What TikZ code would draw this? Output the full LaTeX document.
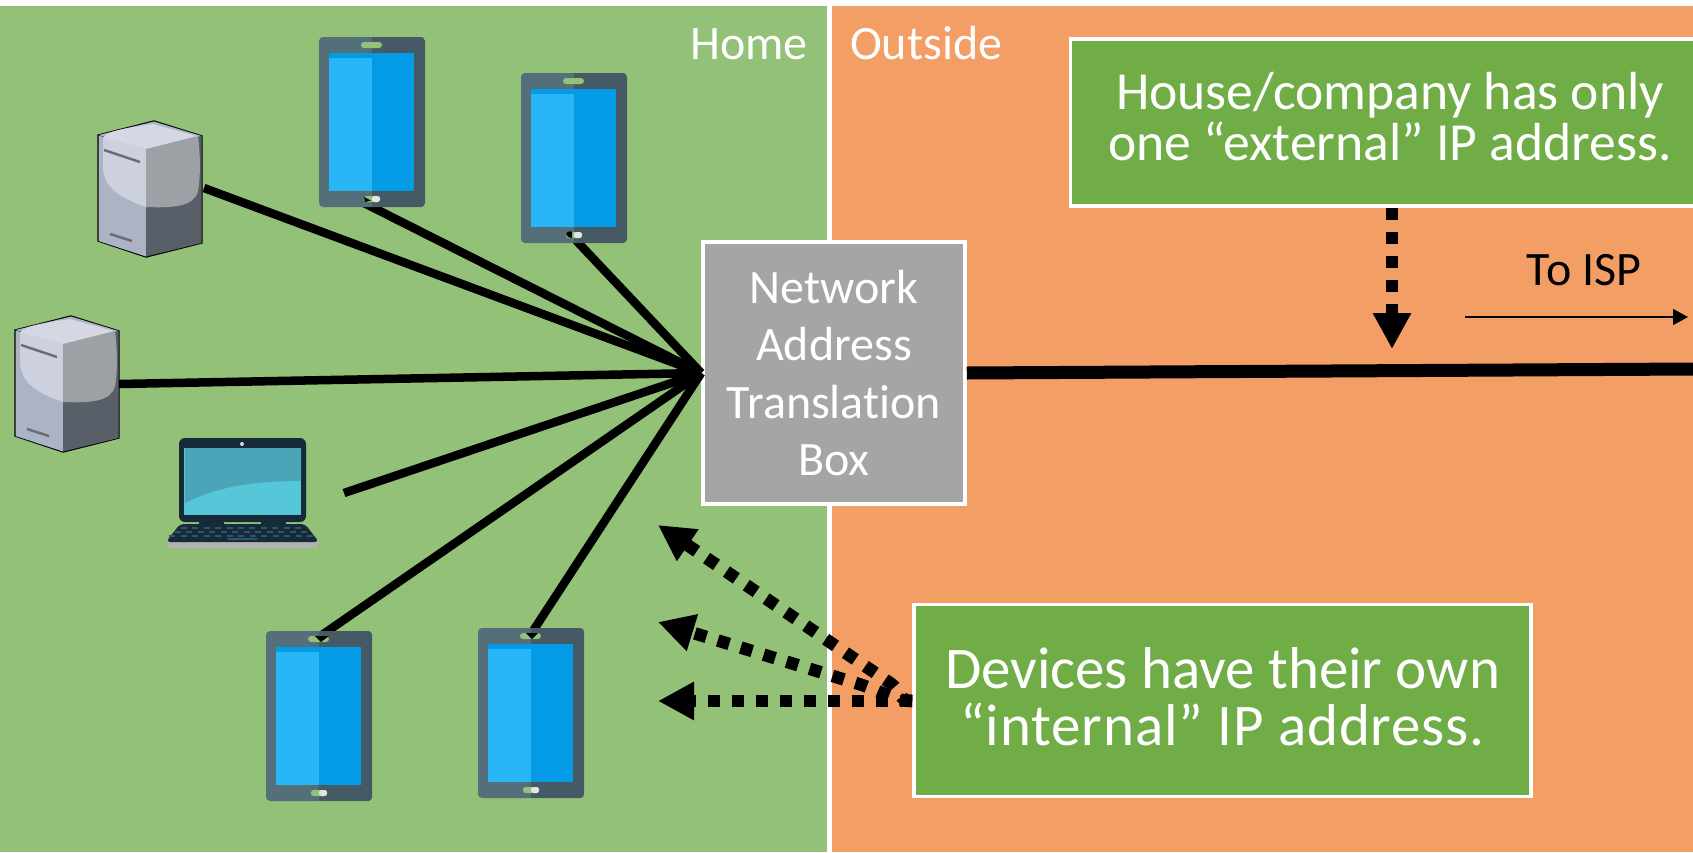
\documentclass[tikz,border=0pt]{standalone}
\usepackage{fontspec}
\setmainfont{Carlito}[Ligatures=NoCommon]
\usetikzlibrary{arrows.meta}
\definecolor{homeG}{HTML}{93C178}
\definecolor{outO}{HTML}{F39E65}
\definecolor{boxG}{HTML}{70AD47}
\definecolor{natG}{HTML}{A5A5A5}
\definecolor{devL}{HTML}{546E7A}
\definecolor{devR}{HTML}{455A64}
\definecolor{scrL}{HTML}{29B6F6}
\definecolor{scrR}{HTML}{039BE5}
\definecolor{cubeA}{HTML}{ABB3C4}
\definecolor{cubeB}{HTML}{585F68}
\definecolor{cubeC}{HTML}{CDD1DD}
\definecolor{cubeD}{HTML}{9CA1A5}
\definecolor{cubeE}{HTML}{D5D8E3}
\definecolor{cubeF}{HTML}{6A6E74}
\definecolor{lapKey}{HTML}{172A3A}
\definecolor{lapK2}{HTML}{2F5568}
\definecolor{lapHi}{HTML}{56C7D9}
\definecolor{lapLo}{HTML}{4BA5B9}
\tikzset{
  x=1pt,y=-1pt,
  link/.style={line width=8.5pt,black},
  boxed/.style={draw=white,line width=3.5pt,text=white,align=center,inner sep=0pt},
  note/.style={boxed,fill=boxG},
  notetext/.style={text=white,align=center,inner sep=0pt},
  dotarrow/.style={line width=12.5pt,black,dash pattern=on 12pt off 12pt,-{Triangle[length=36pt,width=36pt,sep=0pt]}},
  zonelabel/.style={text=white,font=\fontsize{48}{55}\selectfont,inner sep=0pt},
  pics/tablet/.style={code={
    \fill[devL,rounded corners=4pt] (0,0) rectangle (106,170);
    \begin{scope}
      \clip[rounded corners=4pt] (0,0) rectangle (106,170);
      \fill[devR] (53,0) rectangle (106,170);
    \end{scope}
    \fill[scrR] (10,16) rectangle (95,154);
    \fill[scrL] (10,21) rectangle (53,154);
    \fill[homeG,rounded corners=3pt] (42,5) rectangle (63,11);
    \fill[homeG,rounded corners=2.5pt] (45,159) rectangle (61,165);
    \fill[black!10,rounded corners=2.5pt] (53,159) rectangle (61,165);
  }},
  pics/tower/.style={code={
    \fill[black] (-0.7,13.5) -- (56,-0.7) -- (104.7,14.5) -- (104.7,122.5) -- (48,136.7) -- (-0.7,120.5) -- cycle;
    \fill[cubeA] (0.5,14.5) -- (48,28) -- (48,135.5) -- (0.5,120) -- cycle;
    \fill[cubeB] (48,28) -- (103.5,15) -- (103.5,122) -- (48,135.5) -- cycle;
    \fill[cubeA] (0.5,14) -- (56,0.5) -- (103.5,15) -- (48,28) -- cycle;
    \fill[cubeC] (5,17) -- (48,28) -- (48,86) .. controls (25,78) and (5,68) .. (5,45) -- cycle;
    \fill[cubeD] (48,28) -- (100,15) .. controls (103,40) and (102,60) .. (100,70) .. controls (96,86) and (75,87) .. (48,86) -- cycle;
    \fill[cubeE] (5,17) .. controls (8,12) and (14,9) .. (55,3) -- (99,15) -- (48,28) -- cycle;
    \draw[cubeF,line width=2.5pt] (6,29) -- (42,41);
    \draw[cubeF,line width=2.5pt] (12,113) -- (34,120);
  }},
}
\begin{document}
\begin{tikzpicture}
\useasboundingbox (0,0) rectangle (1693,852);
\fill[white] (0,0) rectangle (1693,852);
\fill[homeG] (0,6) rectangle (826.5,852);
\fill[outO] (831.5,6) rectangle (1693,852);
\node[zonelabel,anchor=base east] (home) at (808,59) {Home};
\node[zonelabel,anchor=base west] (outside) at (850,59) {Outside};

% NAT box
\node[boxed,fill=natG,minimum width=262pt,minimum height=262pt,font=\fontsize{48}{57.5}\selectfont] (nat) at (834,373) {Network\\Address\\Translation\\Box};

% link end points
\coordinate (t1) at (358,200);
\coordinate (t2) at (570,234);
\coordinate (t3) at (319,637);
\coordinate (t4) at (531,634);
\coordinate (s1) at (204,188);
\coordinate (s2) at (119,384);
\coordinate (lp) at (344,493);
\coordinate (ispE) at (1693,369);

% links
\foreach \e in {s1,t1,t2,s2,lp,t3,t4} \draw[link] (\e) -- (nat.west);
\draw[line width=13pt,black] (nat.east) -- (ispE);

% devices
\pic at (319,37) {tablet};
\pic at (521,73) {tablet};
\pic at (266,631) {tablet};
\pic at (478,628) {tablet};
\pic at (98,121) {tower};
\pic at (15,316) {tower};
% link showing through the pill-shaped holes
\fill[black] (364,197) -- (371,200.5) -- (365,202) -- cycle;
\fill[black] (566,234) .. controls (567,231) and (571,231) .. (572,232) -- (572,238) .. controls (569,238) and (567,237) .. (566,234) -- cycle;
\fill[black] (315,636) -- (329,636) -- (321,642) -- cycle;
\fill[black] (526,633) -- (538,633) -- (532,639) -- cycle;

% laptop
\fill[black!30] (166,541) -- (319,541) -- (318,546) .. controls (318,548) .. (312,548) -- (172,548) .. controls (167,548) .. (166,541) -- cycle;
\fill[lapKey,rounded corners=4pt] (180,524) -- (305,524) -- (319,542) -- (166,542) -- cycle;
\fill[lapKey,rounded corners=6pt] (179,438) rectangle (306,522);
\fill[lapKey] (199,520) rectangle (224,526);
\fill[lapKey] (261,520) rectangle (286,526);
\fill[lapHi] (184,448) rectangle (301,515);
\fill[lapLo] (185,448) -- (301,448) -- (301,481) .. controls (260,481) and (220,485) .. (185,503) -- cycle;
\fill[black!15] (242,444) circle (2pt);
\foreach \r/\a/\b/\n in {528/184/298/11,532/178/304/12,536/172/310/13} {
  \foreach \i in {1,...,\n} {
    \pgfmathsetmacro{\xx}{\a+(\b-\a)*(\i-1)/(\n-1)}
    \fill[lapK2] (\xx-3,\r-1) rectangle (\xx+3,\r+1);
  }
}
\fill[lapK2] (228,538) rectangle (257,540);

% notes
\node[note,minimum width=639pt,minimum height=167pt] (ext) at (1390,122.5) {};
\node[notetext,font=\fontsize{53.6}{51}\selectfont] (extT) at (1390,116.5) {House/company has only\\one “external” IP address.};
\node[note,minimum width=617pt,minimum height=192pt] (int) at (1222.5,700.5) {};
\node[notetext,font=\fontsize{59}{57}\selectfont] (intT) at (1222.5,696.5) {Devices have their own\\\addfontfeature{LetterSpace=1.5}“internal” IP address.};

% dotted arrows
\coordinate (a1) at (658,525);
\coordinate (a2) at (658,622);
\coordinate (a3) at (658,701);
\coordinate (a4) at (1392,349);
\draw[dotarrow] (int.west |- a3) -- (a3);
\draw[dotarrow] (int.west |- a3) .. controls (895,701) and (880,691) .. (862,685) -- (a2);
\draw[dotarrow] (int.west |- a3) .. controls (898,701) and (903,692) .. (890,683) -- (a1);
\draw[dotarrow] (ext.south -| a4) -- (a4);

% To ISP
\node[font=\fontsize{48}{55}\selectfont,inner sep=0pt,anchor=base] (isp) at (1584,285) {To ISP};
\coordinate (ispA) at (1465,317);
\coordinate (ispB) at (1688,317);
\draw[line width=1.2pt,black,-{Triangle[length=15pt,width=16pt]}] (ispA) -- (ispB);
\end{tikzpicture}
\end{document}
